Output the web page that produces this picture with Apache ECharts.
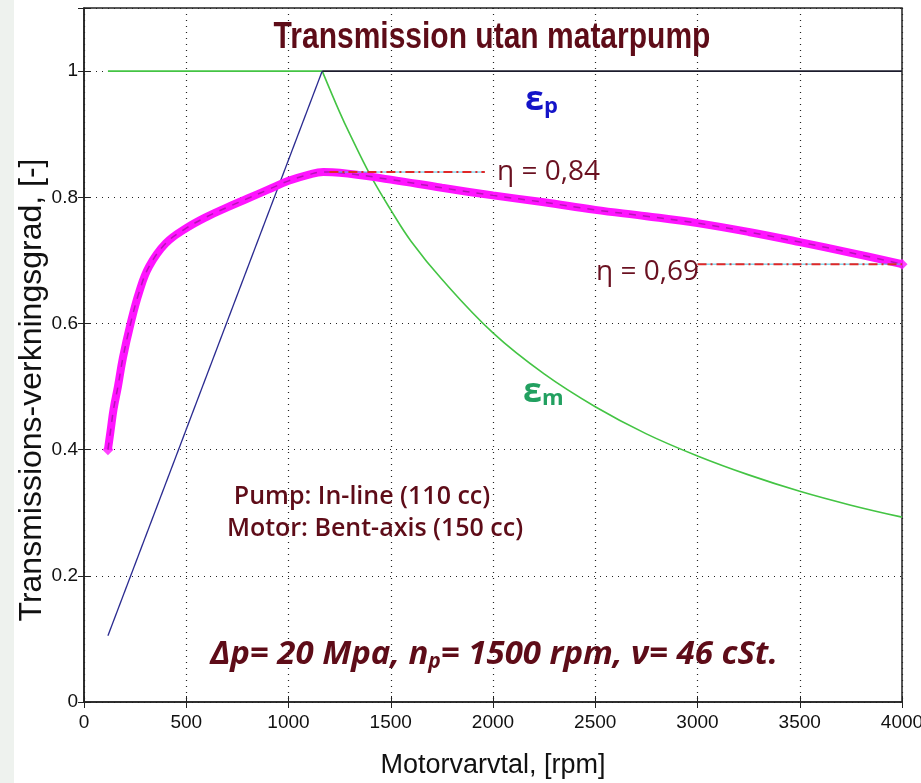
<!DOCTYPE html>
<html>
<head>
<meta charset="utf-8">
<style>
  html, body { margin: 0; padding: 0; background: #fff; }
  #chart { width: 921px; height: 783px; }
</style>
<script src="https://cdn.jsdelivr.net/npm/echarts@6/dist/echarts.min.js"></script>
</head>
<body>
<div id="chart"></div>
<script>
// transmission efficiency (magenta)
var rpmEta = [117, 130, 145, 166, 190, 228, 270, 318, 400, 500, 600, 700, 800, 900, 1000, 1100, 1170, 1250, 1500, 1750, 2000, 2250, 2500, 2750, 3000, 3250, 3500, 3750, 4000];
var eta = [0.40, 0.43, 0.465, 0.50, 0.545, 0.60, 0.65, 0.69, 0.727, 0.751, 0.769, 0.784, 0.798, 0.812, 0.826, 0.836, 0.840, 0.839, 0.828, 0.815, 0.803, 0.792, 0.780, 0.770, 0.759, 0.745, 0.729, 0.712, 0.694];
// pump volumetric efficiency (blue)
var rpmP = [117, 1165];
var epsP = [0.105, 1.0];
var rpmPFlat = [1165, 4000];
var epsPFlat = [1.0, 1.0];
// motor efficiency (green): flat part and falling part
var rpmMFlat = [117, 1165];
var epsMFlat = [1.0, 1.0];
var rpmM = [1165, 1250, 1300, 1400, 1500, 1600, 1750, 2000, 2250, 2500, 2750, 3000, 3250, 3500, 3750, 4000];
var epsM = [1.0, 0.935, 0.90, 0.835, 0.78, 0.73, 0.67, 0.585, 0.52, 0.468, 0.425, 0.39, 0.36, 0.334, 0.312, 0.293];
// eta marker lines
var eta84X = [1200, 1960];
var eta84Y = [0.84, 0.84];
var eta69X = [3000, 4000];
var eta69Y = [0.694, 0.694];

function pairs(xs, ys) {
  return xs.map(function (x, i) { return [x, ys[i]]; });
}

var chart = echarts.init(document.getElementById("chart"));
var maroon = "#5e0c18";
var sans = "'Liberation Sans', sans-serif";
var handFont = "'Open Sans', 'DejaVu Sans', sans-serif";

var gridLine = { show: true, lineStyle: { color: "#222", type: [1, 5], width: 1.2 } };

var option = {
  backgroundColor: "#fff",
  animation: false,
  grid: {
    left: 84, right: 19, top: 8, bottom: 81,
    outerBoundsMode: "none", containLabel: false,
    show: true, borderColor: "#222", borderWidth: 1.5
  },
  xAxis: [
    {
      type: "value", min: 0, max: 4000, interval: 500,
      name: "Motorvarvtal, [rpm]", nameLocation: "middle", nameGap: 50,
      nameTextStyle: { fontFamily: sans, fontSize: 27, color: "#111" },
      axisLine: { lineStyle: { color: "#222", width: 1.5 } },
      axisTick: { inside: true, length: 6, lineStyle: { color: "#222" } },
      axisLabel: { fontFamily: sans, fontSize: 19, color: "#111", margin: 11, formatter: function (v) { return String(v); } },
      splitLine: gridLine
    },
    {
      type: "value", position: "top", min: 0, max: 4000, interval: 500,
      axisLine: { show: false },
      axisTick: { inside: true, length: 6, lineStyle: { color: "#222" } },
      axisLabel: { show: false }, splitLine: { show: false }
    }
  ],
  yAxis: [
    {
      type: "value", min: 0, max: 1.1, interval: 0.2,
      axisLine: { show: true, lineStyle: { color: "#222", width: 1.5 } },
      axisTick: { show: true, inside: true, length: 6, lineStyle: { color: "#222" } },
      axisLabel: {
        fontFamily: sans, fontSize: 19, color: "#111", margin: 6,
        formatter: function (v) { return v > 1.001 ? "" : String(+v.toFixed(1)); }
      },
      splitLine: gridLine
    },
    {
      type: "value", position: "right", min: 0, max: 1.1, interval: 0.2,
      axisLine: { show: false },
      axisTick: { show: true, inside: true, length: 6, lineStyle: { color: "#222" } },
      axisLabel: { show: false }, splitLine: { show: false }
    }
  ],
  series: [
    {
      name: "eps_m flat", type: "line", data: pairs(rpmMFlat, epsMFlat), showSymbol: false,
      lineStyle: { color: "#44c444", width: 1.6 }
    },
    {
      name: "eps_m", type: "line", data: pairs(rpmM, epsM), showSymbol: false,
      smooth: 0.4,
      lineStyle: { color: "#44c444", width: 1.6 }
    },
    {
      name: "eps_p", type: "line", data: pairs(rpmP, epsP), showSymbol: false,
      lineStyle: { color: "#2a2a90", width: 1.3 }
    },
    {
      name: "eps_p flat", type: "line", data: pairs(rpmPFlat, epsPFlat), showSymbol: false,
      lineStyle: { color: "#1c1c2c", width: 1.6 }
    },
    {
      name: "eta", type: "line", data: pairs(rpmEta, eta), showSymbol: false,
      smooth: 0.4,
      lineStyle: { color: "#ff14ff", width: 8 }
    },
    {
      name: "eta edge", type: "line", data: pairs(rpmEta, eta), showSymbol: false,
      smooth: 0.4,
      lineStyle: { color: "rgba(90,20,90,0.45)", width: 1.5, type: [7, 7] }
    },
    {
      name: "eta ends", type: "scatter",
      data: [[rpmEta[0], eta[0]], [rpmEta[rpmEta.length - 1], eta[eta.length - 1]]],
      symbol: "diamond", symbolSize: 11,
      itemStyle: { color: "#ff14ff" }
    },
    {
      name: "eta84 base", type: "line", data: pairs(eta84X, eta84Y), showSymbol: false,
      lineStyle: { color: "#4cc4e4", width: 1 }
    },
    {
      name: "eta84", type: "line", data: pairs(eta84X, eta84Y), showSymbol: false,
      lineStyle: { color: "#e02828", width: 2, type: [9, 4, 2, 4] }
    },
    {
      name: "eta69 base", type: "line", data: pairs(eta69X, eta69Y), showSymbol: false,
      lineStyle: { color: "#4cc4e4", width: 1 }
    },
    {
      name: "eta69", type: "line", data: pairs(eta69X, eta69Y), showSymbol: false,
      lineStyle: { color: "#e02828", width: 2, type: [9, 4, 2, 4] }
    }
  ],
  graphic: [
    { type: "rect", left: 0, top: 0, z: -10, shape: { width: 14, height: 783 }, style: { fill: "#eef2ee" } },
    {
      type: "text", x: 492, y: 38, z: 100, scaleY: 1.25,
      style: {
        text: "Transmission utan matarpump", fill: maroon,
        font: "bold 30px " + sans, align: "center", verticalAlign: "middle"
      }
    },
    {
      type: "text", x: 32, y: 390, z: 100, rotation: Math.PI / 2,
      style: {
        text: "Transmissions-verkningsgrad, [-]", fill: "#111",
        font: "32px " + sans, align: "center", verticalAlign: "middle"
      }
    },
    {
      type: "text", x: 525, y: 82, z: 100,
      style: {
        text: "{e|ε}{s|p}",
        rich: {
          e: { fontSize: 34, fontWeight: "bold", fill: "#1414c8", fontFamily: handFont, lineHeight: 36 },
          s: { fontSize: 22, fontWeight: "bold", fill: "#1414c8", fontFamily: handFont, padding: [14, 0, 0, 0], lineHeight: 36 }
        }
      }
    },
    {
      type: "text", x: 523, y: 374, z: 100,
      style: {
        text: "{e|ε}{s|m}",
        rich: {
          e: { fontSize: 34, fontWeight: "bold", fill: "#22a060", fontFamily: handFont, lineHeight: 36 },
          s: { fontSize: 22, fontWeight: "bold", fill: "#22a060", fontFamily: handFont, padding: [14, 0, 0, 0], lineHeight: 36 }
        }
      }
    },
    {
      type: "text", x: 497, y: 172, z: 100,
      style: { text: "η = 0,84", fill: "#6a1020", font: "28px " + handFont, verticalAlign: "middle" }
    },
    {
      type: "text", x: 596, y: 272, z: 100,
      style: { text: "η = 0,69", fill: "#6a1020", font: "28px " + handFont, verticalAlign: "middle" }
    },
    {
      type: "text", x: 362, y: 497, z: 100,
      style: { text: "Pump: In-line (110 cc)", fill: maroon, font: "600 25px " + handFont, align: "center", verticalAlign: "middle" }
    },
    {
      type: "text", x: 375, y: 529, z: 100,
      style: { text: "Motor: Bent-axis (150 cc)", fill: maroon, font: "600 25px " + handFont, align: "center", verticalAlign: "middle" }
    },
    {
      type: "text", x: 494, y: 637, z: 100,
      style: {
        text: "{a|Δp= 20 Mpa, n}{s|p}{a|= 1500 rpm, ν= 46 cSt.}",
        align: "center",
        rich: {
          a: { fontSize: 33, fontWeight: "bold", fontStyle: "italic", fill: maroon, fontFamily: handFont, lineHeight: 36 },
          s: { fontSize: 21, fontWeight: "bold", fontStyle: "italic", fill: maroon, fontFamily: handFont, padding: [14, 0, 0, 0], lineHeight: 36 }
        }
      }
    }
  ]
};

chart.setOption(option);
window.addEventListener("resize", function () { chart.resize(); });
</script>
</body>
</html>
